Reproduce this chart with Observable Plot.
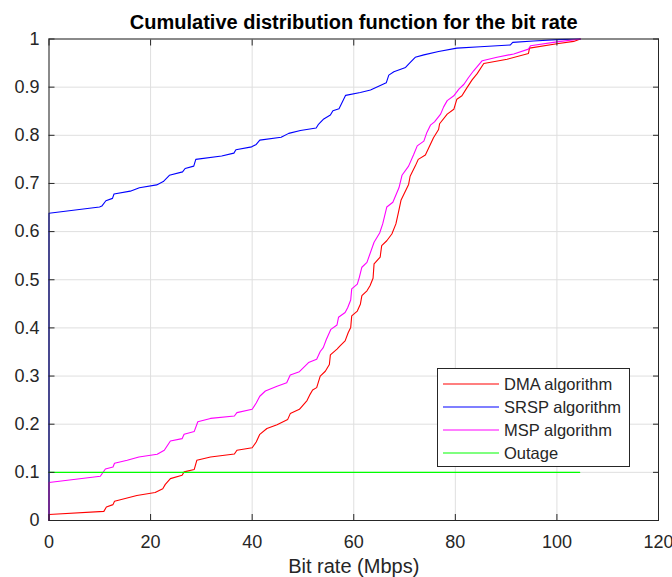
<!DOCTYPE html>
<html><head><meta charset="utf-8">
<script src="https://cdn.jsdelivr.net/npm/d3@7"></script>
<script src="https://cdn.jsdelivr.net/npm/@observablehq/plot@0.6"></script>
<style>
html,body{margin:0;padding:0;background:#fff;}
#wrap{position:relative;width:672px;height:577px;overflow:hidden;}
#legend{position:absolute;left:437px;top:368px;}
</style></head><body><div id="wrap"></div>
<script>
const titleText = "Cumulative distribution function for the bit rate";
const xLabel = "Bit rate (Mbps)";
const xTicks = [0, 20, 40, 60, 80, 100, 120];
const yTicks = [0, 0.1, 0.2, 0.3, 0.4, 0.5, 0.6, 0.7, 0.8, 0.9, 1];
const seriesNames = ["DMA algorithm", "SRSP algorithm", "MSP algorithm", "Outage"];
const seriesColors = ["#ff0000", "#0000ff", "#ff00ff", "#00ff00"];

const dmaX = [0,0,10.8,11.3,12.6,12.9,17.3,20.9,22.4,22.9,23.9,26.2,26.6,28.6,29.1,31.8,36.5,37.0,40.0,40.8,41.5,42.9,44.9,47.0,47.5,49.3,50.8,51.4,51.9,52.7,53.4,54.4,55.2,55.4,56.7,57.3,58.3,58.9,59.4,59.6,60.7,61.3,61.6,62.6,63.2,63.8,64.0,65.2,65.5,66.5,67.5,68.3,68.8,69.3,70.8,71.1,72.1,72.7,74.1,75.7,76.7,76.9,78.4,79.7,80.3,81.3,82.3,83.3,84.3,85.6,90.2,94.4,94.6,100,103.3,104.6];
const dmaY = [0,0.0125,0.019,0.028,0.033,0.040,0.052,0.058,0.066,0.075,0.087,0.094,0.101,0.106,0.125,0.132,0.138,0.146,0.151,0.163,0.179,0.191,0.199,0.210,0.222,0.231,0.249,0.262,0.271,0.276,0.300,0.310,0.324,0.344,0.356,0.3625,0.373,0.390,0.401,0.425,0.435,0.449,0.467,0.477,0.4875,0.503,0.533,0.547,0.571,0.581,0.595,0.616,0.640,0.665,0.698,0.715,0.736,0.750,0.759,0.795,0.812,0.824,0.844,0.854,0.875,0.882,0.899,0.915,0.928,0.949,0.958,0.970,0.981,0.990,0.995,1];

const srspX = [0,0,9.95,10.4,11.2,12.5,12.8,16.0,17.8,21.2,22.5,23.7,26.3,26.8,28.5,28.9,34.0,36.4,36.8,39.9,40.8,41.5,45.7,47.2,49.5,52.6,53.0,54.1,55.4,55.9,57.1,57.8,58.4,61.3,63.3,66.4,66.9,67.9,70.2,70.8,72.1,73.8,76.7,80.3,84.9,90.8,91.3,95.4,100,104.6];
const srspY = [0,0.638,0.651,0.653,0.664,0.669,0.678,0.684,0.691,0.697,0.704,0.717,0.724,0.731,0.736,0.750,0.757,0.763,0.770,0.776,0.781,0.790,0.796,0.804,0.810,0.815,0.822,0.834,0.842,0.851,0.855,0.870,0.883,0.889,0.894,0.909,0.925,0.932,0.941,0.948,0.962,0.967,0.974,0.981,0.984,0.9875,0.993,0.996,0.9986,1];

const mspX = [0,0,10.1,11.1,12.6,12.9,15.4,17.7,21.3,22.7,23.9,26.2,26.6,28.6,29.3,31.8,36.5,37.0,40.0,40.8,41.5,42.6,44.9,46.8,47.5,49.3,51.1,52.7,53.4,54.0,54.6,55.5,56.7,57.0,58.3,58.8,59.4,59.6,60.7,61.1,61.6,62.6,64.0,65.1,65.7,66.5,67.7,68.9,69.5,70.8,71.8,72.5,73.8,74.4,75.1,75.9,77.1,77.7,78.4,79.7,80.7,81.7,82.6,83.6,85.3,88.2,91.5,94.4,94.8,100,104.6];
const mspY = [0,0.079,0.092,0.107,0.111,0.119,0.125,0.132,0.1375,0.146,0.165,0.170,0.179,0.185,0.205,0.212,0.217,0.224,0.231,0.244,0.258,0.269,0.279,0.286,0.302,0.309,0.328,0.335,0.351,0.359,0.376,0.397,0.406,0.422,0.432,0.442,0.458,0.481,0.491,0.505,0.526,0.536,0.578,0.597,0.616,0.651,0.661,0.691,0.717,0.736,0.760,0.778,0.788,0.806,0.821,0.828,0.844,0.859,0.872,0.882,0.896,0.906,0.920,0.934,0.955,0.962,0.969,0.979,0.986,0.994,1];

const outageX = [0, 104.5];
const outageY = [0.1, 0.1];

const seriesX = [dmaX, srspX, mspX, outageX];
const seriesY = [dmaY, srspY, mspY, outageY];
const rows = seriesX.map((xs, i) => xs.map((x, j) => ({x, y: seriesY[i][j]})));

const axisColor = "#262626";
const gridColor = "#dfdfdf";

const chart = Plot.plot({
  width: 672,
  height: 577,
  marginLeft: 48.5,
  marginRight: 14,
  marginTop: 38.5,
  marginBottom: 57,
  style: {fontFamily: "'Liberation Sans', Arial, Helvetica, sans-serif", fontSize: "18px", color: axisColor, background: "#fff"},
  x: {domain: [0, 120]},
  y: {domain: [0, 1]},
  marks: [
    Plot.gridX(xTicks, {stroke: gridColor, strokeOpacity: 1}),
    Plot.gridY(yTicks, {stroke: gridColor, strokeOpacity: 1}),
    ...rows.map((r, i) => Plot.line(r, {x: "x", y: "y", stroke: seriesColors[i], strokeWidth: 1.1})),
    Plot.frame({stroke: axisColor, strokeWidth: 1}),
    Plot.axisX(xTicks, {anchor: "bottom", tickSize: -6, tickPadding: 21, label: null, fontSize: 18, tickFormat: d => String(d)}),
    Plot.axisX(xTicks, {anchor: "top", tickSize: -6, label: null, tickFormat: () => ""}),
    Plot.axisY(yTicks, {anchor: "left", tickSize: -6, tickPadding: 15.5, label: null, fontSize: 18, tickFormat: d => String(d)}),
    Plot.axisY(yTicks, {anchor: "right", tickSize: -6, label: null, tickFormat: () => ""}),
    Plot.text([xLabel], {frameAnchor: "bottom", lineAnchor: "middle", dy: 46.5, fontSize: 20, fill: axisColor}),
    Plot.text([titleText], {frameAnchor: "top", lineAnchor: "middle", dy: -16.5, fontSize: 20, fontWeight: "bold", fill: "#000"})
  ]
});
const wrap = document.getElementById("wrap");
wrap.appendChild(chart);

// legend overlay
const lw = 193, lh = 99;
const leg = d3.select(wrap).append("svg").attr("id", "legend")
  .attr("width", lw).attr("height", lh)
  .style("font-family", "'Liberation Sans', Arial, Helvetica, sans-serif");
leg.append("rect").attr("x", 0.5).attr("y", 0.5).attr("width", lw - 1).attr("height", lh - 1)
  .attr("fill", "#fff").attr("stroke", axisColor).attr("stroke-width", 1);
seriesNames.forEach((name, i) => {
  const base = 21.5 + i * 23.2;
  const ly = Math.round(base - 6);
  leg.append("line").attr("x1", 6).attr("x2", 62).attr("y1", ly).attr("y2", ly)
    .attr("stroke", seriesColors[i]).attr("stroke-width", 1.2);
  leg.append("text").attr("x", 67).attr("y", base).attr("font-size", 16.5).attr("fill", axisColor).text(name);
});
</script></body></html>
